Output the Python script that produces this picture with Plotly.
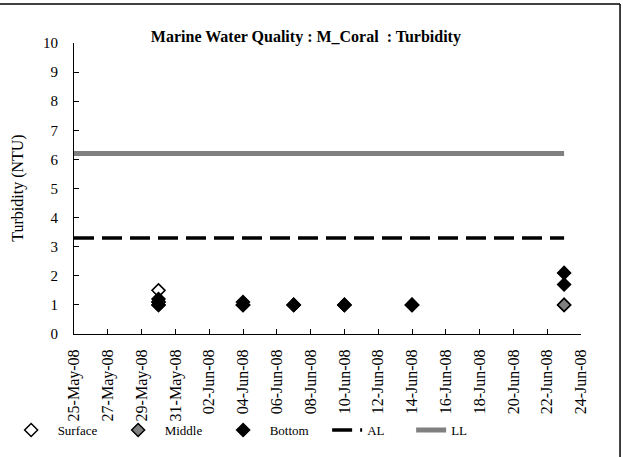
import plotly.graph_objects as go

# sampling dates and turbidity readings (NTU)
surface_dates = ["2008-05-30", "2008-05-30", "2008-06-04", "2008-06-07", "2008-06-10", "2008-06-14", "2008-06-23"]
surface_vals = [1.5, 1.1, 1.0, 1.0, 1.0, 1.0, 1.0]

middle_dates = ["2008-05-30", "2008-05-30", "2008-06-04", "2008-06-07", "2008-06-10", "2008-06-14", "2008-06-23"]
middle_vals = [1.1, 1.0, 1.0, 1.0, 1.0, 1.0, 1.0]

bottom_dates = ["2008-05-30", "2008-05-30", "2008-06-04", "2008-06-04", "2008-06-07", "2008-06-10",
                "2008-06-14", "2008-06-23", "2008-06-23"]
bottom_vals = [1.0, 1.2, 1.0, 1.1, 1.0, 1.0, 1.0, 2.1, 1.7]

# action / limit levels
limit_dates = ["2008-05-25", "2008-06-23"]
al_vals = [3.3, 3.3]
ll_vals = [6.2, 6.2]

FONT = "Liberation Serif, Times New Roman, serif"
PAD = "\u00a0\u00a0"  # small gap between legend symbol and its label

fig = go.Figure()

fig.add_trace(go.Scatter(
    x=surface_dates, y=surface_vals, mode="markers", name=PAD + "Surface", legendwidth=62,
    marker=dict(symbol="diamond", size=10, color="white", line=dict(color="black", width=1.5))
))
fig.add_trace(go.Scatter(
    x=middle_dates, y=middle_vals, mode="markers", name=PAD + "Middle", legendwidth=60,
    marker=dict(symbol="diamond", size=10, color="#808080", line=dict(color="black", width=1.5))
))
fig.add_trace(go.Scatter(
    x=bottom_dates, y=bottom_vals, mode="markers", name=PAD + "Bottom", legendwidth=59,
    marker=dict(symbol="diamond", size=10, color="black", line=dict(color="black", width=1.5))
))
fig.add_trace(go.Scatter(
    x=limit_dates, y=al_vals, mode="lines", name="AL", legendwidth=39,
    line=dict(color="black", width=3.5, dash="20px,8px")
))
fig.add_trace(go.Scatter(
    x=limit_dates, y=ll_vals, mode="lines", name="LL", legendwidth=40,
    line=dict(color="#808080", width=5)
))

fig.update_layout(
    width=623, height=457,
    margin=dict(l=74, r=42, t=43, b=123, autoexpand=False),
    paper_bgcolor="white", plot_bgcolor="white",
    font=dict(family=FONT, size=15, color="black"),
    title=dict(text="<b>Marine Water Quality : M_Coral  : Turbidity</b>",
               x=0.491, xanchor="center", y=0.921, yanchor="middle",
               font=dict(family=FONT, size=16)),
    showlegend=True,
    legend=dict(orientation="h", x=-0.124, xanchor="left", y=-0.33, yanchor="middle",
                font=dict(family=FONT, size=13), bgcolor="rgba(0,0,0,0)",
                itemclick=False),
    xaxis=dict(
        type="date", range=["2008-05-25", "2008-06-24"],
        tick0="2008-05-25", dtick=2 * 86400000, tickformat="%d-%b-%y",
        tickangle=-90, ticks="inside", ticklen=5, tickcolor="black",
        ticklabelstandoff=8, automargin=False,
        showline=True, linecolor="black", linewidth=1, showgrid=False, zeroline=False,
        tickfont=dict(family=FONT, size=16)
    ),
    yaxis=dict(
        range=[0, 10], dtick=1, ticks="inside", ticklen=5, tickcolor="black",
        ticklabelstandoff=12, automargin=False,
        showline=True, linecolor="black", linewidth=1, showgrid=False, zeroline=False,
        tickfont=dict(family=FONT, size=15)
    ),
    annotations=[
        dict(text="Turbidity (NTU)", xref="paper", yref="paper", x=-0.112, y=0.5,
             xanchor="center", yanchor="middle", textangle=-90, showarrow=False,
             font=dict(family=FONT, size=16)),
    ],
    shapes=[
        dict(type="line", xref="paper", yref="paper", x0=-0.15, x1=1.077, y0=1.134, y1=1.134,
             line=dict(color="black", width=1.5)),
        dict(type="line", xref="paper", yref="paper", x0=1.077, x1=1.077, y0=1.134, y1=-0.43,
             line=dict(color="black", width=1.5)),
    ],
)

fig.write_html("out.html", config={"displayModeBar": False},
               post_script="document.body.style.margin='0';")
